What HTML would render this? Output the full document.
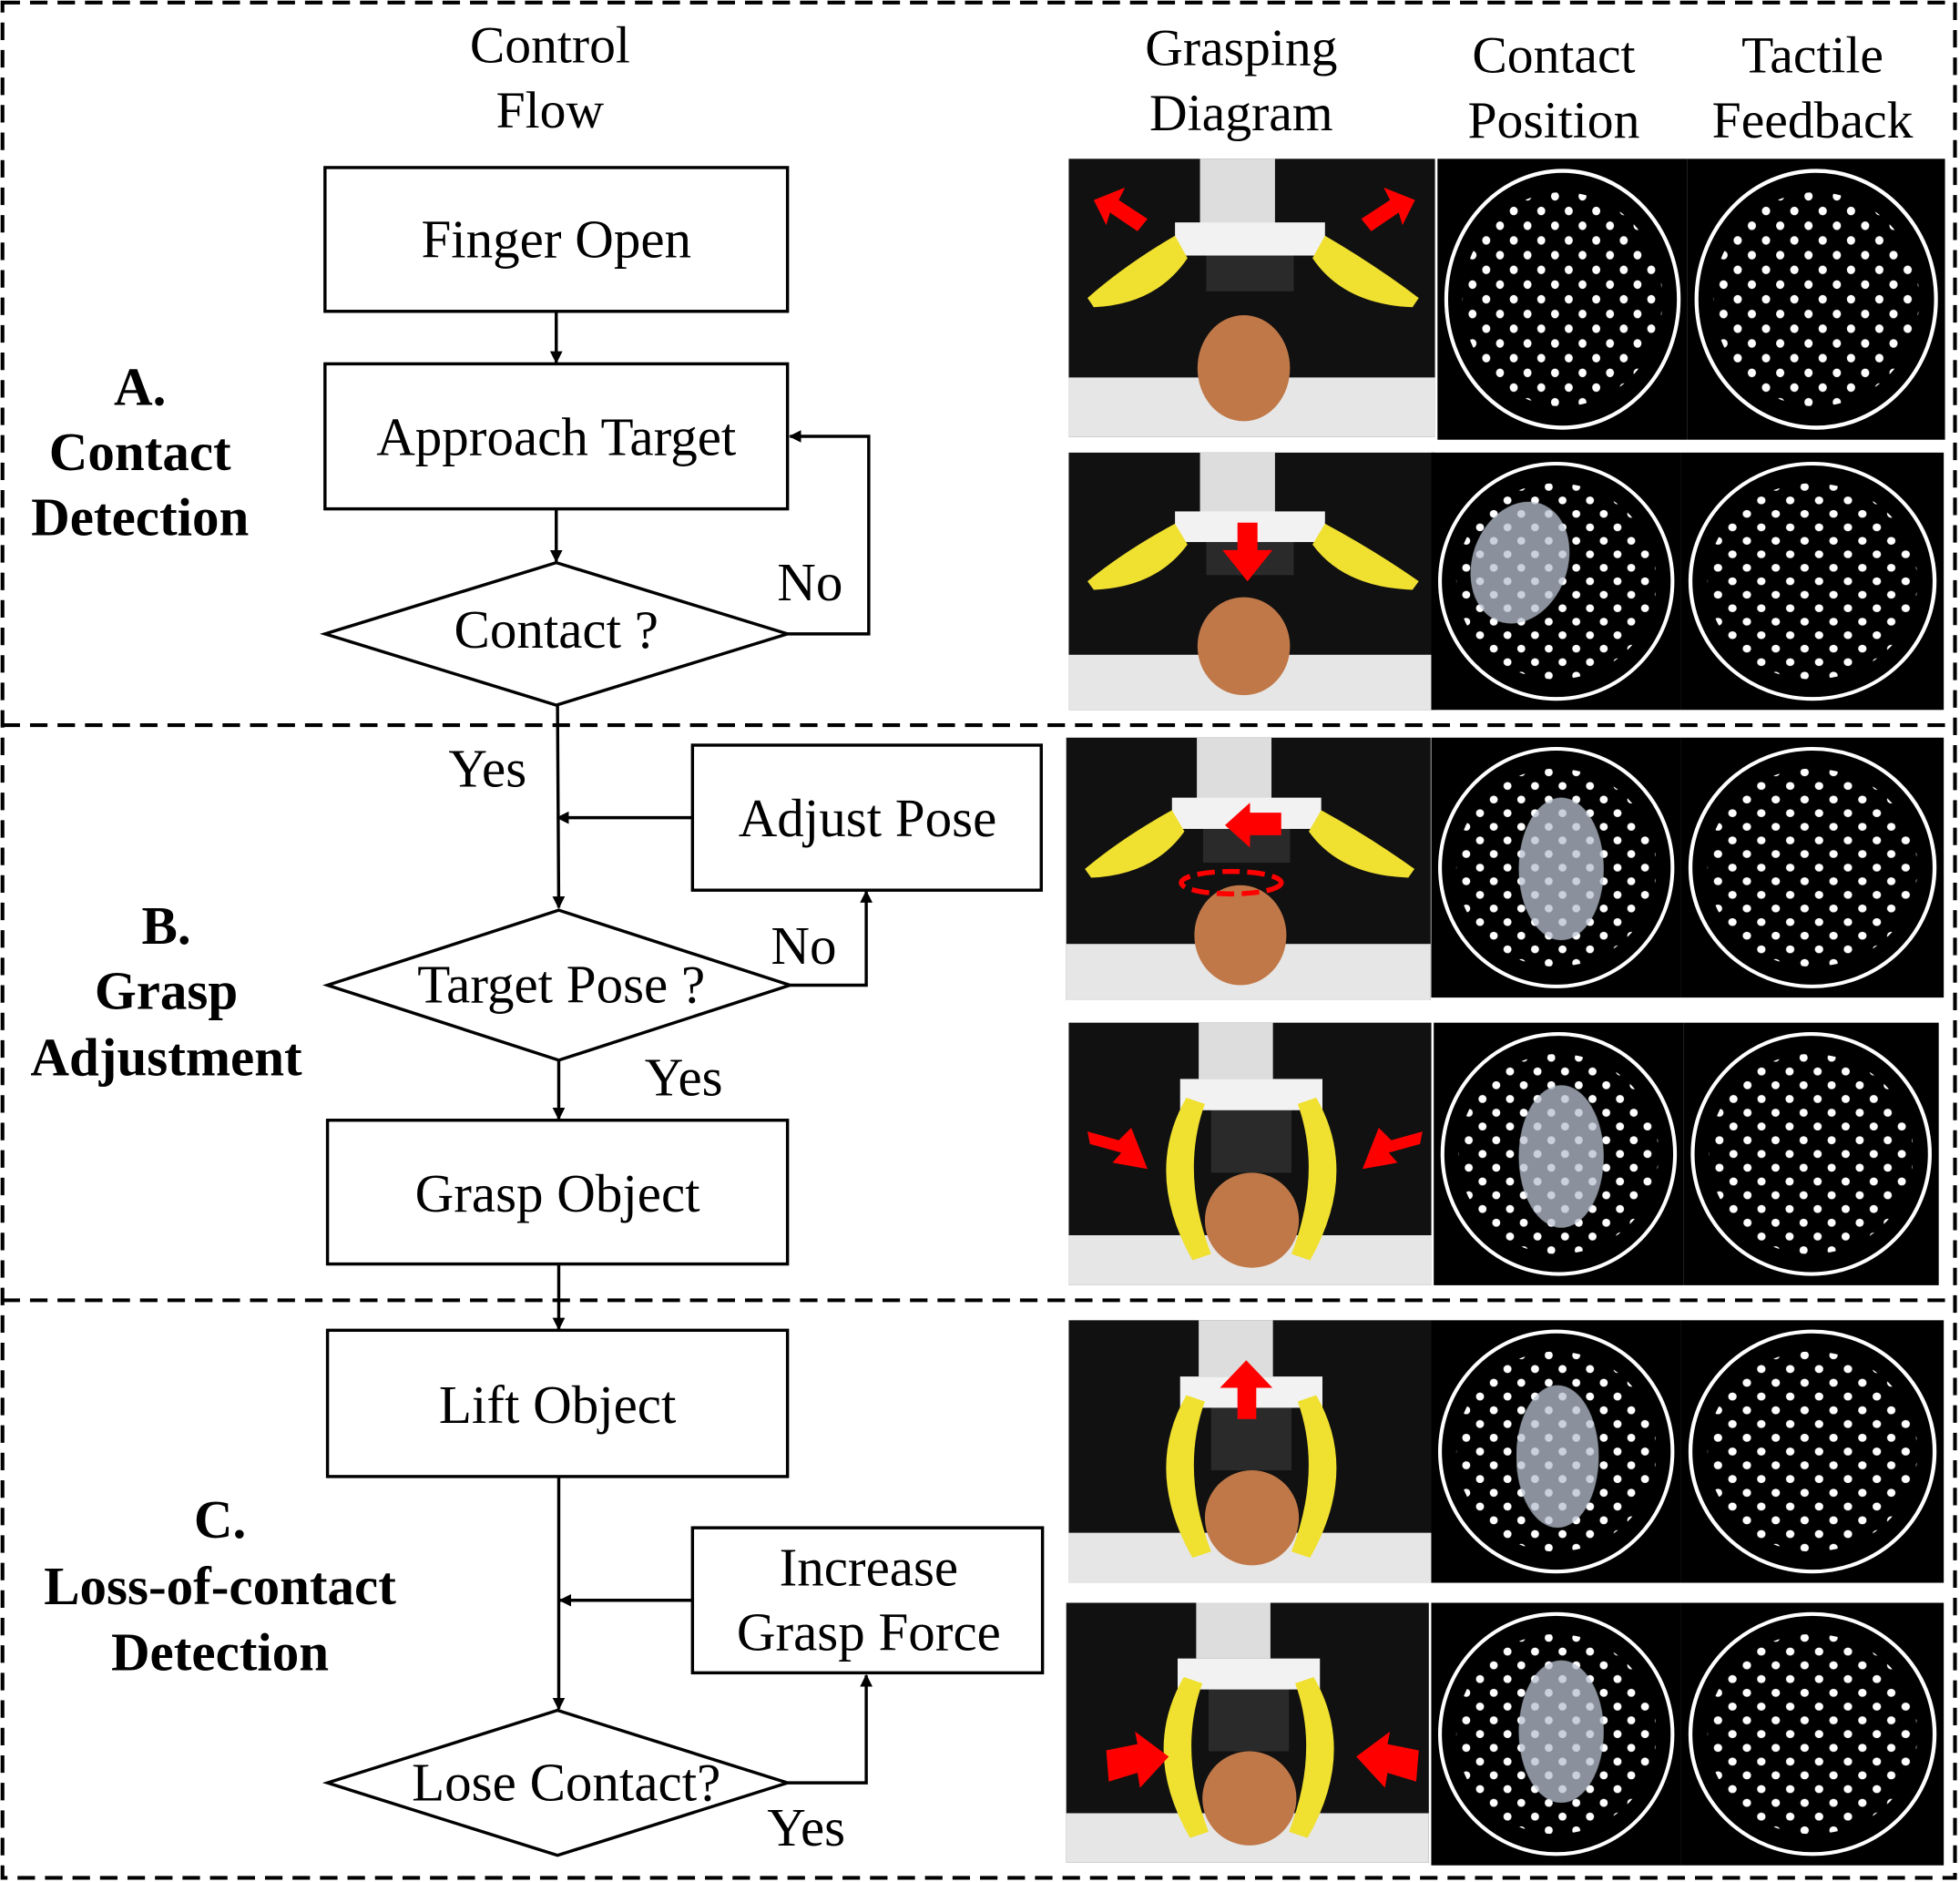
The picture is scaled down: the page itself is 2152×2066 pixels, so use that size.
<!DOCTYPE html>
<html><head><meta charset="utf-8"><style>
html,body{margin:0;padding:0;background:#fff;}
svg{display:block;}
text{font-family:"Liberation Serif",serif;fill:#000;}
</style></head><body>
<svg width="2152" height="2066" viewBox="0 0 1568 1505.3" xmlns="http://www.w3.org/2000/svg">
<defs>
<marker id="ar" markerWidth="10" markerHeight="10" refX="9" refY="5" orient="auto" markerUnits="userSpaceOnUse"><path d="M0,0 L10,5 L0,10 z" fill="#000"/></marker>
<pattern id="dots" width="22" height="22" patternUnits="userSpaceOnUse"><circle cx="6" cy="6" r="3.2" fill="#fff"/><circle cx="17" cy="17" r="3.2" fill="#fff"/></pattern>
<clipPath id="cc"><circle cx="100" cy="105" r="80"/></clipPath>
<g id="tac">
<rect x="0" y="0" width="200" height="210" fill="#000"/>
<ellipse cx="100" cy="105" rx="93" ry="96" fill="none" stroke="#fff" stroke-width="3"/>
<rect x="0" y="0" width="200" height="210" fill="url(#dots)" clip-path="url(#cc)"/>
</g>
<g id="photoOpen">
<rect x="0" y="0" width="293" height="210" fill="#111"/>
<rect x="0" y="165" width="293" height="45" fill="#e6e6e6"/>
<rect x="105" y="0" width="60" height="50" fill="#ddd"/>
<rect x="110" y="50" width="70" height="50" fill="#2a2a2a"/>
<rect x="85" y="48" width="120" height="25" fill="#f2f2f2"/>
<path d="M85,58 Q45,80 15,105 L20,112 Q70,110 95,75 z" fill="#f0e030"/>
<path d="M205,58 Q245,80 280,105 L275,112 Q220,110 195,75 z" fill="#f0e030"/>
<ellipse cx="140" cy="158" rx="37" ry="40" fill="#c07848"/>
</g>
<g id="photoClosed">
<rect x="0" y="0" width="293" height="210" fill="#111"/>
<rect x="0" y="170" width="293" height="40" fill="#e6e6e6"/>
<rect x="105" y="0" width="60" height="45" fill="#ddd"/>
<rect x="115" y="60" width="65" height="60" fill="#2a2a2a"/>
<rect x="90" y="45" width="115" height="25" fill="#f2f2f2"/>
<path d="M95,60 Q60,120 100,190 L115,185 Q90,120 110,65 z" fill="#f0e030"/>
<path d="M200,60 Q235,120 195,190 L180,185 Q205,120 185,65 z" fill="#f0e030"/>
<ellipse cx="148" cy="158" rx="38" ry="38" fill="#c07848"/>
</g>
</defs>

<g fill="none" stroke="#000" stroke-width="3" stroke-dasharray="14,8">
<rect x="2" y="2" width="1562" height="1500"/>
<line x1="2" y1="580" x2="1564" y2="580"/>
<line x1="2" y1="1040" x2="1564" y2="1040"/>
</g>

<g font-size="42" text-anchor="middle">
<text x="440" y="50">Control</text><text x="440" y="102">Flow</text>
<text x="993" y="52">Grasping</text><text x="993" y="104">Diagram</text>
<text x="1243" y="58">Contact</text><text x="1243" y="110">Position</text>
<text x="1450" y="58">Tactile</text><text x="1450" y="110">Feedback</text>
</g>

<g font-size="43" font-weight="bold" text-anchor="middle">
<text x="112" y="324">A.</text><text x="112" y="376">Contact</text><text x="112" y="428">Detection</text>
<text x="133" y="755">B.</text><text x="133" y="807">Grasp</text><text x="133" y="860">Adjustment</text>
<text x="176" y="1230">C.</text><text x="176" y="1283">Loss-of-contact</text><text x="176" y="1336">Detection</text>
</g>

<g fill="#fff" stroke="#000" stroke-width="2.5">
<rect x="260" y="134" width="370" height="115"/>
<rect x="260" y="291" width="370" height="116"/>
<polygon points="260,507 445,450 630,507 445,564"/>
<rect x="554" y="596" width="279" height="116"/>
<polygon points="262,788 447,728 632,788 447,848"/>
<rect x="262" y="896" width="368" height="115"/>
<rect x="262" y="1064" width="368" height="117"/>
<rect x="554" y="1222" width="280" height="116"/>
<polygon points="262,1426 446,1368 630,1426 446,1484"/>
</g>
<g fill="none" stroke="#000" stroke-width="2.5" marker-end="url(#ar)">
<line x1="445" y1="249" x2="445" y2="290"/>
<line x1="445" y1="407" x2="445" y2="449"/>
<polyline points="630,507 695,507 695,349 632,349"/>
<line x1="446" y1="564" x2="447" y2="726"/>
<line x1="554" y1="654" x2="446" y2="654"/>
<polyline points="632,788 693,788 693,713"/>
<line x1="447" y1="848" x2="447" y2="895"/>
<line x1="447" y1="1011" x2="447" y2="1063"/>
<line x1="447" y1="1181" x2="447" y2="1367"/>
<line x1="554" y1="1280" x2="448" y2="1280"/>
<polyline points="630,1426 693,1426 693,1340"/>
</g>
<g font-size="43" text-anchor="middle">
<text x="445" y="206">Finger Open</text>
<text x="445" y="364">Approach Target</text>
<text x="445" y="518">Contact ?</text>
<text x="648" y="480">No</text>
<text x="390" y="629">Yes</text>
<text x="694" y="669">Adjust Pose</text>
<text x="449" y="802">Target Pose ?</text>
<text x="643" y="771">No</text>
<text x="547" y="876">Yes</text>
<text x="446" y="969">Grasp Object</text>
<text x="446" y="1138">Lift Object</text>
<text x="695" y="1268">Increase</text>
<text x="695" y="1320">Grasp Force</text>
<text x="453" y="1440">Lose Contact?</text>
<text x="645" y="1476">Yes</text>
</g>

<use href="#photoOpen" transform="translate(855,127) scale(1,1.06)"/>
<use href="#photoOpen" transform="translate(855,362) scale(1,0.98)"/>
<use href="#photoOpen" transform="translate(853,590) scale(0.995,1)"/>
<use href="#photoClosed" transform="translate(855,818) scale(0.99,1)"/>
<use href="#photoClosed" transform="translate(855,1056) scale(0.99,1)"/>
<use href="#photoClosed" transform="translate(853,1282) scale(0.99,0.99)"/>
<g fill="#f00">
<polygon points="875,160 900,150 895,160 918,175 910,185 888,170 885,180"/>
<polygon points="1132,160 1107,150 1112,160 1089,175 1097,185 1119,170 1122,180"/>
<polygon points="990,418 1006,418 1006,440 1018,440 998,465 978,440 990,440"/>
<polygon points="1025,650 1025,668 1000,668 1000,678 980,660 1000,642 1000,650"/>
<polygon points="870,905 895,912 905,902 918,935 890,930 897,922 872,915"/>
<polygon points="1138,905 1113,912 1103,902 1090,935 1118,930 1111,922 1136,915"/>
<polygon points="990,1135 1005,1135 1005,1110 1018,1110 997,1088 976,1110 990,1110"/>
<polygon points="885,1400 910,1395 908,1385 935,1405 912,1430 910,1418 887,1425"/>
<polygon points="1135,1400 1110,1395 1112,1385 1085,1405 1108,1430 1110,1418 1133,1425"/>
</g>
<ellipse cx="985" cy="706" rx="40" ry="9" fill="none" stroke="#f00" stroke-width="4" stroke-dasharray="14,6"/>

<use href="#tac" transform="translate(1150,127) scale(1,1.07)"/>
<use href="#tac" transform="translate(1350,127) scale(1.03,1.07)"/>
<use href="#tac" transform="translate(1145,362) scale(1,0.98)"/>
<use href="#tac" transform="translate(1345,362) scale(1.05,0.98)"/>
<use href="#tac" transform="translate(1145,590) scale(1,0.99)"/>
<use href="#tac" transform="translate(1345,590) scale(1.05,0.99)"/>
<use href="#tac" transform="translate(1147,818) scale(1,1)"/>
<use href="#tac" transform="translate(1347,818) scale(1.02,1)"/>
<use href="#tac" transform="translate(1145,1056) scale(1,1)"/>
<use href="#tac" transform="translate(1345,1056) scale(1.05,1)"/>
<use href="#tac" transform="translate(1145,1282) scale(1,1)"/>
<use href="#tac" transform="translate(1345,1282) scale(1.05,1)"/>
<g fill="#b8c2d0" opacity="0.75">
<ellipse cx="1216" cy="450" rx="38" ry="50" transform="rotate(20 1216 450)"/>
<ellipse cx="1249" cy="695" rx="34" ry="57"/>
<ellipse cx="1249" cy="925" rx="34" ry="57"/>
<ellipse cx="1246" cy="1165" rx="33" ry="57"/>
<ellipse cx="1249" cy="1385" rx="34" ry="57"/>
</g>
</svg>
</body></html>
